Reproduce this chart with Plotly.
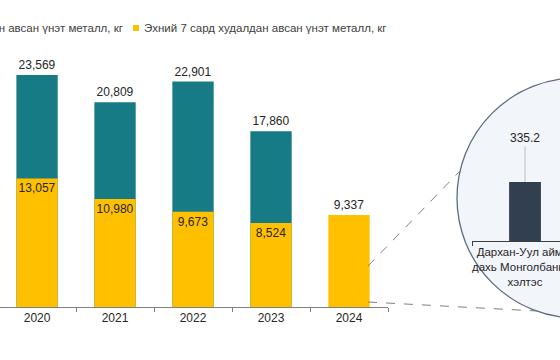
import plotly.graph_objects as go

years = ["2020", "2021", "2022", "2023", "2024"]
annual_kg = [23569, 20809, 22901, 17860, None]
first7_kg = [13057, 10980, 9673, 8524, 9337]
inset_cat = ["Дархан-Уул аймаг<br>дахь Монголбанкны<br>хэлтэс"]
inset_val = [335.2]
legend_names = ["Нийт худалдан авсан үнэт металл, кг", "Эхний 7 сард худалдан авсан үнэт металл, кг"]

TEAL = "#177b85"
YELLOW = "#FFC000"
DARK = "#323f50"
TXT = "#262626"
FONT = "Liberation Sans, Arial, sans-serif"

W, H = 560, 360
T, B = 40, 53
PH = H - T - B

def px(x):
    return x / W

def py(y):
    return (H - B - y) / PH

fmt = lambda v: "" if v is None else f"{v:,}"

fig = go.Figure()
fig.add_trace(go.Bar(
    x=years, y=annual_kg, name=legend_names[0], marker_color=TEAL,
    marker_line_width=0, width=0.53,
    text=[fmt(v) for v in annual_kg], textposition="outside",
    textfont=dict(family=FONT, size=12, color=TXT), cliponaxis=False,
    showlegend=False, xaxis="x", yaxis="y"))
fig.add_trace(go.Bar(
    x=years, y=first7_kg, name=legend_names[1], marker_color=YELLOW,
    marker_line_width=0, width=0.53,
    text=[fmt(v) for v in first7_kg],
    textposition=["inside", "inside", "inside", "inside", "outside"],
    insidetextanchor="end", textangle=0, constraintext="none",
    textfont=dict(family=FONT, size=12, color=TXT), cliponaxis=False,
    showlegend=False, xaxis="x", yaxis="y"))

fig.add_trace(go.Bar(
    x=inset_cat, y=inset_val, marker_color=DARK, marker_line_width=0,
    width=0.3, showlegend=False, xaxis="x2", yaxis="y2"))

shapes = []
cx, cy, r = 577, 198, 120
shapes.append(dict(type="circle", xref="paper", yref="paper",
                   x0=px(cx - r), x1=px(cx + r), y0=py(cy + r), y1=py(cy - r),
                   fillcolor="#f2f5fa", line=dict(color="#5b6b82", width=1.3),
                   layer="below"))
shapes.append(dict(type="line", xref="paper", yref="paper",
                   x0=px(368), y0=py(266), x1=px(460), y1=py(171),
                   line=dict(color="#7f7f7f", width=1, dash="dash")))
shapes.append(dict(type="line", xref="paper", yref="paper",
                   x0=px(368), y0=py(302), x1=px(537), y1=py(311),
                   line=dict(color="#7f7f7f", width=1, dash="dash")))
shapes.append(dict(type="rect", xref="paper", yref="paper",
                   x0=px(133), x1=px(139), y0=py(31), y1=py(25),
                   fillcolor=YELLOW, line_width=0))

annotations = [
    dict(xref="paper", yref="paper", x=px(125), y=py(28), xanchor="right",
         yanchor="middle", text=legend_names[0], showarrow=False,
         font=dict(family=FONT, size=11.5, color="#404040")),
    dict(xref="paper", yref="paper", x=px(142), y=py(28), xanchor="left",
         yanchor="middle", text=legend_names[1], showarrow=False,
         font=dict(family=FONT, size=11.5, color="#404040")),
    dict(xref="x2", yref="y2", x=inset_cat[0], y=inset_val[0],
         text=f"{inset_val[0]:.1f}", showarrow=True, arrowhead=0,
         arrowwidth=1, arrowcolor="#bfbfbf", ax=0, ay=-44, standoff=0,
         font=dict(family=FONT, size=12, color=TXT)),
]

fig.update_layout(
    width=W, height=H,
    margin=dict(l=0, r=0, t=T, b=B, autoexpand=False),
    paper_bgcolor="white", plot_bgcolor="rgba(0,0,0,0)",
    barmode="overlay",
    font=dict(family=FONT, size=12, color=TXT),
    shapes=shapes, annotations=annotations,
    xaxis=dict(domain=[0, px(388)], range=[-0.475, 4.5], type="category",
               showline=True, linecolor="#808080", linewidth=1,
               ticks="outside", tickson="boundaries", ticklen=4,
               tickcolor="#808080", showgrid=False, zeroline=False,
               tickfont=dict(family=FONT, size=12, color=TXT), tickangle=0,
               automargin=False, anchor="y", fixedrange=True),
    yaxis=dict(domain=[0, 1], range=[0, PH * 23569 / 232], visible=False,
               automargin=False, anchor="x", fixedrange=True),
    xaxis2=dict(domain=[px(472), 1], range=[-0.5, 0.33], type="category",
                showline=True, linecolor="#404040", linewidth=1,
                ticks="outside", tickson="boundaries", ticklen=4,
                tickcolor="#404040", showgrid=False, zeroline=False,
                tickfont=dict(family=FONT, size=11.5, color=TXT), tickangle=0,
                automargin=False, anchor="y2", fixedrange=True),
    yaxis2=dict(domain=[py(241), py(141)], range=[0, 335.2 * 100 / 59],
                visible=False, automargin=False, anchor="x2", fixedrange=True),
)

fig.write_html(
    "out.html",
    config={"displayModeBar": False, "responsive": False},
    post_script="document.body.style.margin='0';document.body.style.overflow='hidden';",
)
